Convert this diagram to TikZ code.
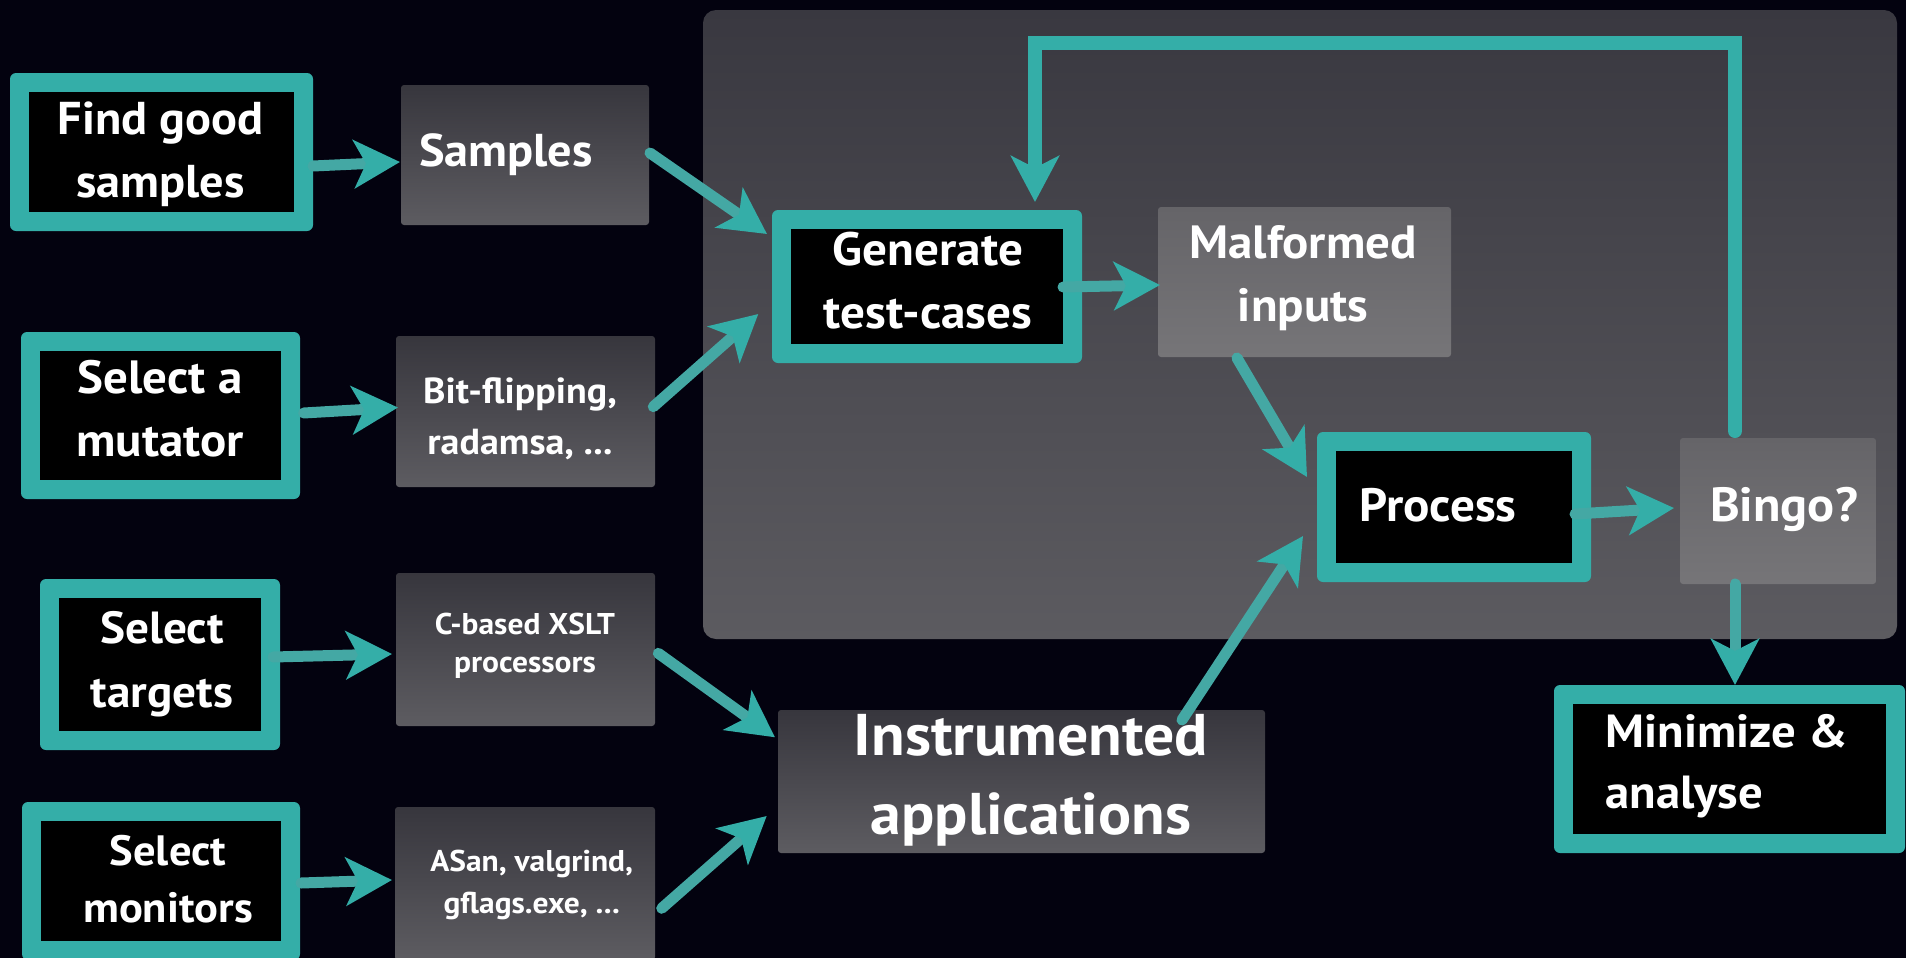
\documentclass[tikz,border=0pt]{standalone}
\usepackage{fontspec}
\setmainfont{PT Sans}[FakeStretch=1.05]
\usetikzlibrary{arrows.meta}

\definecolor{bgnavy}{RGB}{3,2,15}
\definecolor{fzteal}{RGB}{52,174,168}
\definecolor{fzshaft}{RGB}{68,168,164}
\definecolor{gtop}{RGB}{55,54,61}
\definecolor{gbot}{RGB}{93,92,97}
\definecolor{ptop}{RGB}{57,56,64}
\definecolor{pbot}{RGB}{92,91,96}
\definecolor{ltop}{RGB}{101,100,104}
\definecolor{lbot}{RGB}{118,117,120}

\tikzset{
  box at/.style args={#1,#2,#3,#4}{at={({(#1+#3)/2},{(#2+#4)/2})},
    minimum width={(#3-#1)*0.5pt}, minimum height={(#4-#2)*0.5pt}},
  tealbox/.style={fill=fzteal, rounded corners=3pt, outer sep=0pt, inner sep=0pt,
    path picture={\fill[black, sharp corners]
      ([shift={(9.5pt,-9.5pt)}]path picture bounding box.north west) rectangle
      ([shift={(-9.5pt,9.5pt)}]path picture bounding box.south east);}},
  graybox/.style={rounded corners=1.5pt, top color=gtop, bottom color=gbot,
    outer sep=0pt, inner sep=0pt},
  litebox/.style={rounded corners=1.5pt, top color=ltop, bottom color=lbot,
    outer sep=0pt, inner sep=0pt},
  panelbox/.style={rounded corners=6.5pt, top color=ptop, bottom color=pbot,
    outer sep=0pt, inner sep=0pt},
  txt/.style={text=white, inner sep=0pt, align=center},
  fs/.style args={#1/#2}{font=\fontsize{#1pt}{#2pt}\selectfont\bfseries},
  tip/.style={-{Stealth[length=23pt,width=24pt,inset=6pt,fill=fzteal,color=fzteal]}},
  arr/.style={draw=fzshaft, line width=5.5pt, line cap=round, tip},
  loopback/.style={draw=fzteal, line width=7pt, line cap=round, tip},
}

\begin{document}
\begin{tikzpicture}[x=0.5pt, y=-0.5pt]
\useasboundingbox (0,0) rectangle (1906,958);
\fill[bgnavy] (0,0) rectangle (1906,958);

% shaded panel holding the fuzzing loop
\node[panelbox, box at={703,10,1897,639}] (panel) {};

% left column: steps and their choices
\node[tealbox, box at={10,73,313,231}] (find) {};
\node[tealbox, box at={21,332,300,499}] (mutator) {};
\node[tealbox, box at={40,579,280,750}] (targets) {};
\node[tealbox, box at={22,802,300,960}] (monitors) {};

\node[graybox, box at={401,85,649,225}] (samples) {};
\node[graybox, box at={396,336,655,487}] (bitflip) {};
\node[graybox, box at={396,573,655,726}] (xslt) {};
\node[graybox, box at={395,807,655,960}] (asan) {};

% loop
\node[tealbox, box at={772,210,1082,363}] (generate) {};
\node[litebox, box at={1158,207,1451,357}] (malformed) {};
\node[tealbox, box at={1317,432,1591,582}] (process) {};
\node[litebox, box at={1680,438,1876,584}] (bingo) {};
\node[tealbox, box at={1554,685,1905,853}] (minimize) {};
\node[graybox, box at={778,710,1265,853}] (instr) {};

% connectors
\draw[arr] ([shift={(0,14)}]find.east) -- ([shift={(-1,7)}]samples.west);
\draw[arr] ([shift={(1,-2)}]samples.east) -- ([shift={(-5,-52.5)}]generate.west);
\draw[arr] ([shift={(3.6,-2.5)}]mutator.east) -- ([shift={(2,-4)}]bitflip.west);
\draw[arr] ([shift={(-1.7,-4.8)}]bitflip.east) -- ([shift={(-13.7,27.5)}]generate.west);
\draw[arr] ([shift={(-7,-7.5)}]targets.east) -- ([shift={(-4,4.5)}]xslt.west);
\draw[arr] ([shift={(1,2)}]monitors.east) -- ([shift={(-3,-3.5)}]asan.west);
\draw[arr] ([shift={(3.3,3.8)}]xslt.east) -- ([shift={(-3,-44.2)}]instr.west);
\draw[arr] ([shift={(6.7,24.8)}]asan.east) -- ([shift={(-11.3,34.5)}]instr.west);
\draw[arr] ([shift={(-19,0.5)}]generate.east) -- ([shift={(2,3)}]malformed.west);
\draw[arr] ([shift={(-67.5,1)}]malformed.south) -- ([shift={(-10,-30)}]process.west);
\draw[arr] ([shift={(160.5,10)}]instr.north) -- ([shift={(-14,29)}]process.west);
\draw[arr] ([shift={(-16,7)}]process.east) -- ([shift={(-6,-3)}]bingo.west);
\draw[arr] ([shift={(-43,0)}]bingo.south) -- ([shift={(5.5,0)}]minimize.north);
\draw[loopback] ([shift={(-43,-7)}]bingo.north) -- ++(0,-388)
  -| ([shift={(108,-8)}]generate.north);

% labels
\node[txt, fs=23/31.3] (tfind) at (160.5,154.2) {Find good\\samples};
\node[txt, fs=23/31.5] (tsamples) at (506,155) {Samples};
\node[txt, fs=23.3/31.5] (tmutator) at (160,408.4) {Select a\\mutator};
\node[txt, fs=18.1/25.5] (tbitflip) at (520,418.5) {Bit-flipping,\\radamsa, ...};
\node[txt, fs=22.5/31.8] (ttargets) at (162,664) {Select\\targets};
\node[txt, fs=15/19.2] (txslt) at (525,646) {C-based XSLT\\processors};
\node[txt, fs=21.2/28.3] (tmonitors) at (168,879) {Select\\monitors};
\node[txt, fs=15/20.8] (tasan) at (531.7,884.9) {ASan, valgrind,\\gflags.exe, ...};
\node[txt, fs=23.4/31.6] (tgenerate) at (928,281) {Generate\\test-cases};
\node[txt, fs=23.3/31.8] (tmalformed) at (1303,278.3) {Malformed\\inputs};
\node[txt, fs=23.4/30] (tprocess) at (1438,505) {Process};
\node[txt, fs=24/30] (tbingo) at (1784,509.5) {Bingo?};
\node[txt, fs=23.2/30.8, align=left, anchor=west] (tminimize) at (1605,766.3) {Minimize \&\\analyse};
\node[txt, fs=29.4/39.5] (tinstr) at (1031,780.2) {Instrumented\\applications};
\end{tikzpicture}
\end{document}
